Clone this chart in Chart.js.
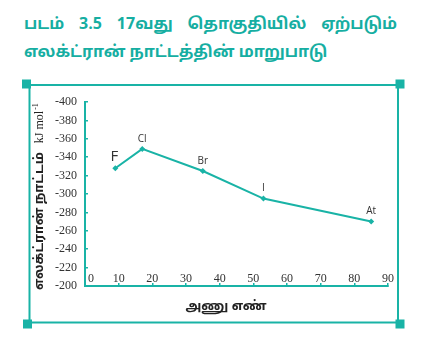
<!DOCTYPE html>
<html>
<head>
<meta charset="utf-8">
<script src="https://cdn.jsdelivr.net/npm/chart.js@4.4.1/dist/chart.umd.min.js"></script>
<style>
  html, body { margin: 0; padding: 0; background: #fff; }
  #wrap { position: relative; width: 423px; height: 337px; overflow: hidden; }
  #title {
    position: absolute; left: 24px; top: 11px; width: 373px;
    color: #16aea2;
    font-family: "Noto Sans Tamil", "Lohit Tamil", "Noto Sans", sans-serif;
    font-weight: bold; font-size: 16px; line-height: 28px;
  }
  #title .l1 { white-space: nowrap; display: flex; justify-content: space-between; }
  canvas { position: absolute; left: 0; top: 0; }
</style>
</head>
<body>
<div id="wrap">
  <div id="title">
    <div class="l1"><span>படம்</span><span>3.5</span><span>17வது</span><span>தொகுதியில்</span><span>ஏற்படும்</span></div>
    <div>எலக்ட்ரான் நாட்டத்தின் மாறுபாடு</div>
  </div>
  <canvas id="chart" width="423" height="337"></canvas>
</div>
<script>
'use strict';

// halogens of group 17
const elements = ['F', 'Cl', 'Br', 'I', 'At'];
const atomicNumbers = [9, 17, 35, 53, 85];
const electronAffinity = [-328, -349, -325, -295, -270];
const xTicks = [0, 10, 20, 30, 40, 50, 60, 70, 80, 90];
const yTicks = [-400, -380, -360, -340, -320, -300, -280, -260, -240, -220, -200];

const teal = '#19b3a6';
const ink = '#333333';
const serif = '"Liberation Serif", "DejaVu Serif", serif';
const tamil = '"Noto Sans Tamil", "Lohit Tamil", "Noto Sans", sans-serif';

// teal frame with little squares on the corners
const framePlugin = {
    id: 'frame',
    beforeDraw: (chart) => {
        const ctx = chart.ctx;
        const l = 29.5, t = 85, r = 398, b = 322.5;
        ctx.save();
        ctx.strokeStyle = teal;
        ctx.lineWidth = 2;
        ctx.strokeRect(l, t, r - l, b - t);
        ctx.fillStyle = teal;
        [[l - 3, t - 1], [r + 2, t - 1], [l - 2, b + 1.5], [r + 2, b + 1.5]].forEach(([cx, cy]) => {
            ctx.fillRect(cx - 4.5, cy - 4.5, 9, 9);
        });
        ctx.restore();
    }
};

// element names above each point, axis titles
const labelPlugin = {
    id: 'pointLabels',
    afterDatasetsDraw: (chart) => {
        const ctx = chart.ctx;
        const meta = chart.getDatasetMeta(0);
        ctx.save();
        ctx.fillStyle = ink;
        ctx.textAlign = 'center';
        ctx.textBaseline = 'bottom';
        meta.data.forEach((pt, i) => {
            const big = elements[i] === 'F';
            ctx.font = (big ? '15px ' : '10px ') + '"Open Sans", sans-serif';
            ctx.fillText(elements[i], pt.x - (big ? 1 : 0), pt.y - (big ? 4 : 5));
        });

        // x title, sits a bit left of the axis centre
        ctx.fillStyle = '#222';
        ctx.textBaseline = 'middle';
        ctx.font = 'bold 13px ' + tamil;
        ctx.fillText('அணு எண்', 226, 307);

        // rotated y-axis title
        ctx.translate(40, 290);
        ctx.rotate(-Math.PI / 2);
        ctx.textAlign = 'left';
        ctx.font = 'bold 13px ' + tamil;
        const t1 = 'எலக்ட்ரான் நாட்டம்';
        ctx.fillText(t1, 0, 0);
        let x = ctx.measureText(t1).width + 9;
        ctx.font = '12px ' + serif;
        ctx.fillText('kJ mol', x, 0);
        x += ctx.measureText('kJ mol').width + 1;
        ctx.font = '8px ' + serif;
        ctx.fillText('-1', x, -4);
        ctx.restore();
    }
};

new Chart(document.getElementById('chart'), {
    type: 'line',
    data: {
        datasets: [{
            data: atomicNumbers.map((n, i) => ({x: n, y: electronAffinity[i]})),
            borderColor: teal,
            backgroundColor: teal,
            borderWidth: 2,
            pointStyle: 'rectRot',
            pointRadius: 3,
            pointBorderWidth: 0,
            tension: 0
        }]
    },
    options: {
        responsive: false,
        animation: false,
        layout: {padding: {left: 0, top: 102, right: 35, bottom: 0}},
        plugins: {legend: {display: false}, tooltip: {enabled: false}},
        scales: {
            x: {
                type: 'linear',
                min: 0,
                max: 90,
                afterBuildTicks: (s) => { s.ticks = xTicks.map(v => ({value: v})); },
                afterFit: (s) => { s.height = 51; },
                border: {color: teal, width: 2},
                grid: {drawOnChartArea: false, tickLength: -3, color: teal, lineWidth: 1.5},
                ticks: {
                    color: ink, mirror: true, padding: 0, maxRotation: 0, autoSkip: false,
                    font: {family: serif, size: 12},
                    // nudge the 0 clear of the corner
                    callback: (v) => (v === 0 ? '    0' : String(v))
                }
            },
            y: {
                type: 'linear',
                reverse: true,
                min: -400,
                max: -200,
                afterBuildTicks: (s) => { s.ticks = yTicks.map(v => ({value: v})); },
                afterFit: (s) => { s.width = 85; },
                border: {color: teal, width: 2},
                grid: {drawOnChartArea: false, tickLength: -3, color: teal, lineWidth: 1.5},
                ticks: {color: ink, padding: 11, font: {family: serif, size: 12}}
            }
        }
    },
    plugins: [framePlugin, labelPlugin]
});
</script>
</body>
</html>
